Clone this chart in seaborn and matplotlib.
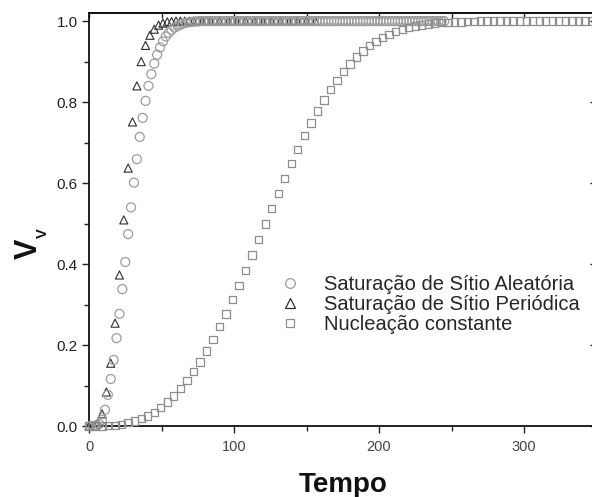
import matplotlib
matplotlib.use("Agg")
import matplotlib.pyplot as plt
import seaborn as sns
from matplotlib.ticker import MultipleLocator
from matplotlib.lines import Line2D

sns.set_theme(style="white")
plt.rcParams['font.family'] = ['Liberation Sans', 'DejaVu Sans']

# ---------------- data ----------------
labels = ["Saturação de Sítio Aleatória",
          "Saturação de Sítio Periódica",
          "Nucleação constante"]

t_circ = [1, 3, 5, 7, 9, 11, 13, 15, 17, 19, 21, 23, 25, 27, 29, 31, 33, 35, 37, 39,
          41, 43, 45, 47, 49, 51, 53, 55, 57, 59, 61, 63, 65, 67, 69, 71, 73, 75, 77, 79,
          81, 83, 85, 87, 89, 91, 93, 95, 97, 99, 101, 103, 105, 107, 109, 111, 113, 115, 117, 119,
          121, 123, 125, 127, 129, 131, 133, 135, 137, 139, 141, 143, 145, 147, 149, 151, 153, 155, 157, 159,
          161, 163, 165, 167, 169, 171, 173, 175, 177, 179, 181, 183, 185, 187, 189, 191, 193, 195, 197, 199,
          201, 203, 205, 207, 209, 211, 213, 215, 217, 219, 221, 223, 225, 227, 229, 231, 233, 235, 237, 239,
          241, 243, 245]
v_circ = [0.000, 0.000, 0.002, 0.005, 0.015, 0.040, 0.077, 0.116, 0.163, 0.217,
          0.277, 0.338, 0.405, 0.474, 0.540, 0.601, 0.659, 0.714, 0.761, 0.803,
          0.840, 0.869, 0.895, 0.917, 0.935, 0.950, 0.962, 0.971, 0.978, 0.984,
          0.988, 0.991, 0.994, 0.996, 0.997, 0.998, 0.999, 0.999, 1.0, 1.0,
          1.0, 1.0, 1.0, 1.0, 1.0, 1.0, 1.0, 1.0, 1.0, 1.0, 1.0, 1.0, 1.0, 1.0, 1.0, 1.0, 1.0, 1.0, 1.0, 1.0,
          1.0, 1.0, 1.0, 1.0, 1.0, 1.0, 1.0, 1.0, 1.0, 1.0, 1.0, 1.0, 1.0, 1.0, 1.0, 1.0, 1.0, 1.0, 1.0, 1.0,
          1.0, 1.0, 1.0, 1.0, 1.0, 1.0, 1.0, 1.0, 1.0, 1.0, 1.0, 1.0, 1.0, 1.0, 1.0, 1.0, 1.0, 1.0, 1.0, 1.0,
          1.0, 1.0, 1.0, 1.0, 1.0, 1.0, 1.0, 1.0, 1.0, 1.0, 1.0, 1.0, 1.0, 1.0, 1.0, 1.0, 1.0, 1.0, 1.0, 1.0,
          1.0, 1.0, 1.0]

t_tri = [0, 3, 6, 9, 12, 15, 18, 21, 24, 27, 30, 33, 36, 39, 42, 45, 48, 51, 54, 57,
         60, 63, 66, 69, 72, 75, 78, 81, 84, 87, 90, 93, 96, 99, 102, 105, 108, 111, 114, 117,
         120, 123, 126, 129, 132, 135, 138, 141, 144, 147, 150, 153, 156]
v_tri = [0.000, 0.001, 0.008, 0.030, 0.084, 0.155, 0.254, 0.373, 0.509, 0.637,
         0.751, 0.840, 0.900, 0.940, 0.965, 0.980, 0.990, 0.995, 0.998, 0.999,
         1.0, 1.0, 1.0, 1.0, 1.0, 1.0, 1.0, 1.0, 1.0, 1.0, 1.0, 1.0, 1.0, 1.0, 1.0, 1.0, 1.0, 1.0, 1.0, 1.0,
         1.0, 1.0, 1.0, 1.0, 1.0, 1.0, 1.0, 1.0, 1.0, 1.0, 1.0, 1.0, 1.0]

t_sq = [0, 4.5, 9, 13.5, 18, 22.5, 27, 31.5, 36, 40.5,
        45, 49.5, 54, 58.5, 63, 67.5, 72, 76.5, 81, 85.5,
        90, 94.5, 99, 103.5, 108, 112.5, 117, 121.5, 126, 130.5,
        135, 139.5, 144, 148.5, 153, 157.5, 162, 166.5, 171, 175.5,
        180, 184.5, 189, 193.5, 198, 202.5, 207, 211.5, 216, 220.5,
        225, 229.5, 234, 238.5, 243, 247.5, 252, 256.5, 261, 265.5,
        270, 274.5, 279, 283.5, 288, 292.5, 297, 301.5, 306, 310.5,
        315, 319.5, 324, 328.5, 333, 337.5, 342, 346.5]
v_sq = [0.000, 0.000, 0.000, 0.001, 0.002, 0.004, 0.008, 0.012, 0.018, 0.025,
        0.034, 0.046, 0.059, 0.074, 0.092, 0.112, 0.134, 0.158, 0.185, 0.214,
        0.245, 0.277, 0.312, 0.347, 0.384, 0.422, 0.460, 0.499, 0.537, 0.575,
        0.612, 0.648, 0.683, 0.717, 0.748, 0.778, 0.805, 0.831, 0.854, 0.875,
        0.894, 0.911, 0.926, 0.939, 0.950, 0.959, 0.967, 0.974, 0.979, 0.984,
        0.988, 0.990, 0.993, 0.995, 0.996, 0.997, 0.998, 0.998, 0.999, 0.999,
        1.0, 1.0, 1.0, 1.0, 1.0, 1.0, 1.0, 1.0, 1.0, 1.0,
        1.0, 1.0, 1.0, 1.0, 1.0, 1.0, 1.0, 1.0]

x_major_ticks = [0, 100, 200, 300]
y_major_ticks = [0.0, 0.2, 0.4, 0.6, 0.8, 1.0]

c_circ = '#9c9c9c'
c_tri = '#2e2e2e'
c_sq = '#8e8e8e'

# ---------------- figure ----------------
W, H = 592, 497
fig = plt.figure(figsize=(W / 100, H / 100), dpi=100)
ax = fig.add_axes([89 / W, 71 / H, 507.5 / W, 413 / H])

sns.scatterplot(x=t_tri, y=v_tri, ax=ax, marker='^', s=34, facecolor='none',
                edgecolor=c_tri, linewidth=0.8, clip_on=False, zorder=3, legend=False)
sns.scatterplot(x=t_circ, y=v_circ, ax=ax, marker='o', s=42, facecolor='none',
                edgecolor=c_circ, linewidth=0.9, clip_on=False, zorder=4, legend=False)
sns.scatterplot(x=t_sq, y=v_sq, ax=ax, marker='s', s=28, facecolor='none',
                edgecolor=c_sq, linewidth=0.9, clip_on=False, zorder=5, legend=False)

ax.set_xlim(0, 350)
ax.set_ylim(0, 1.02)
ax.set_xlabel('')
ax.set_ylabel('')

for sp in ax.spines.values():
    sp.set_visible(True)
    sp.set_color('#111111')
    sp.set_linewidth(1.3)

ax.set_xticks(x_major_ticks)
ax.set_xticklabels([str(v) for v in x_major_ticks])
ax.set_yticks(y_major_ticks)
ax.set_yticklabels([f"{v:.1f}" for v in y_major_ticks])
ax.xaxis.set_minor_locator(MultipleLocator(50))
ax.yaxis.set_minor_locator(MultipleLocator(0.1))

ax.tick_params(axis='both', which='both', direction='out', bottom=True, left=True,
               top=False, right=False, color='#222222', width=1.0)
ax.tick_params(axis='x', which='major', length=5, pad=5, labelsize=10.5, labelcolor='#444444')
ax.tick_params(axis='x', which='minor', length=3.5)
ax.tick_params(axis='y', which='major', length=5, pad=3, labelsize=11, labelcolor='#222222')
ax.tick_params(axis='y', which='minor', length=3.5)

secx = ax.secondary_xaxis('top')
secx.xaxis.set_major_locator(MultipleLocator(100))
secx.xaxis.set_minor_locator(MultipleLocator(50))
secx.tick_params(which='both', direction='in', length=3.5, width=1.0, color='#222222',
                 labeltop=False)
secx.spines['top'].set_linewidth(1.3)
secx.spines['top'].set_color('#111111')

secy = ax.secondary_yaxis('right')
secy.yaxis.set_major_locator(MultipleLocator(0.2))
secy.yaxis.set_minor_locator(MultipleLocator(0.1))
secy.tick_params(which='major', direction='in', length=5, width=1.0, color='#222222',
                 labelright=False)
secy.tick_params(which='minor', direction='in', length=3, width=1.0, color='#222222',
                 labelright=False)

# legend
handles = [
    Line2D([], [], ls='', marker='o', ms=7.0, mfc='none', mec=c_circ, mew=0.9),
    Line2D([], [], ls='', marker='^', ms=7.0, mfc='none', mec=c_tri, mew=0.9),
    Line2D([], [], ls='', marker='s', ms=6.0, mfc='none', mec=c_sq, mew=0.9),
]
ax.legend(handles, labels, loc='upper left', bbox_to_anchor=(280 / W, 1 - 275 / H),
          bbox_transform=fig.transFigure, frameon=False, fontsize=14.5,
          handlelength=1.0, handletextpad=1.2, labelspacing=0.05,
          borderpad=0, borderaxespad=0, numpoints=1)

# axis labels
fig.text(37 / W, 1 - 249 / H, 'V', rotation=90, rotation_mode='anchor',
         ha='center', va='baseline', fontsize=22, fontweight='bold', color='#111111')
fig.text(47 / W, 1 - 233 / H, 'V', rotation=90, rotation_mode='anchor',
         ha='center', va='baseline', fontsize=10.5, fontweight='bold', color='#111111')
fig.text(343 / W, 1 - 492 / H, 'Tempo', ha='center', va='baseline',
         fontsize=20, fontweight='bold', color='#111111')

fig.savefig('out.png', dpi=100)
